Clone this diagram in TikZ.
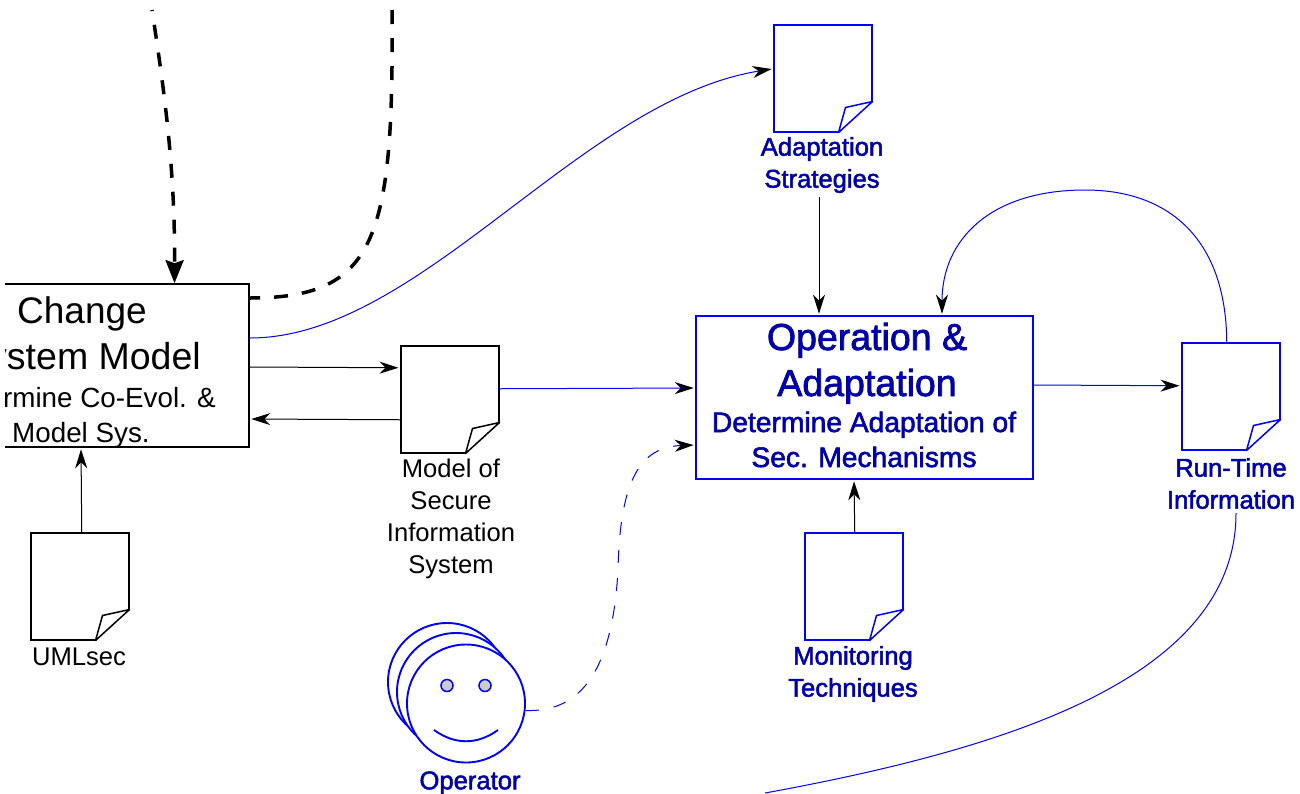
\documentclass[tikz,border=0pt]{standalone}
\usepackage{fontspec}
\setmainfont{Liberation Sans}
\newfontfamily\bluefont[FakeBold=2]{Liberation Sans}
\usetikzlibrary{arrows.meta}

\definecolor{textblue}{RGB}{0,0,170}

\tikzset{
    tip/.style={-{Stealth[length=19pt,width=12pt,inset=6pt,color=black]},shorten >=1.5pt},
    wire/.style={line width=1pt},
    boxnode/.style={draw,line width=1.6pt,inner sep=0pt},
    pagenode/.style={draw,line width=1.5pt,anchor=north west,inner sep=0pt,minimum width=98pt,minimum height=107pt},
    labelnode/.style={inner sep=0pt,align=center,font=\fontsize{25.6}{32}\selectfont},
    bluelabel/.style={inner sep=0pt,align=center,text=textblue,font=\bluefont\fontsize{25.6}{32}\selectfont},
    optitle/.style={inner sep=0pt,anchor=base,text=textblue,font=\bluefont\fontsize{37.5}{46}\selectfont},
    optext/.style={inner sep=0pt,anchor=base,text=textblue,font=\bluefont\fontsize{28.2}{35}\selectfont},
    facenode/.style={circle,draw=blue,line width=1.9pt,fill=white,inner sep=0pt,minimum size=118pt},
    eyenode/.style={circle,draw=blue,fill=black!20,line width=1.5pt,inner sep=0pt,minimum size=12pt},
    thickdash/.style={line width=3.5pt,dash pattern=on 14pt off 14pt},
}

% page with folded corner: name, x, y, colour
\newcommand{\docpage}[4]{
    \node[pagenode,draw=#4] (#1) at (#2,#3) {};
    \begin{scope}[shift={(#1.south east)}]
        \fill[white] (1,1) -- (1,-31) -- (-34,1) -- cycle;
        \draw[#4,line width=1.5pt,line join=round] (0,-31) -- (-34,0) -- (-27,-25) -- cycle;
    \end{scope}
}

\begin{document}
\begin{tikzpicture}[x=1pt,y=-1pt]
    \useasboundingbox (0,0) rectangle (1300,793);
    \clip (0,0) rectangle (1300,793);

    % -- Change box --
    \node[boxnode,minimum width=269pt,minimum height=163pt] (changebox) at (114.5,365.5) {};
    \node[inner sep=0pt,anchor=base,font=\fontsize{37}{46}\selectfont] (changeA) at (82,323) {Change};
    \node[inner sep=0pt,anchor=base east,font=\fontsize{37.5}{46}\selectfont] (changeB) at (201,369) {ystem Model};
    \node[inner sep=0pt,anchor=base east,font=\fontsize{27.8}{35}\selectfont] (changeC) at (216,407) {rmine Co-Evol. \&};
    \node[inner sep=0pt,anchor=base west,font=\fontsize{27.8}{35}\selectfont] (changeD) at (12,442) {Model Sys.};

    % -- Operation box --
    \node[boxnode,draw=blue,minimum width=337pt,minimum height=163pt] (opbox) at (864.5,397.5) {};
    \node[optitle] (opA) at (867,350) {Operation \&};
    \node[optitle] (opB) at (867,396) {Adaptation};
    \node[optext] (opC) at (864,432) {Determine Adaptation of};
    \node[optext] (opD) at (864,467) {Sec. Mechanisms};

    % -- Pages --
    \docpage{adaptdoc}{773}{24}{blue}
    \docpage{modeldoc}{400}{345}{black}
    \docpage{umldoc}{30}{532}{black}
    \docpage{monitordoc}{804}{532}{blue}
    \docpage{runtimedoc}{1181}{342}{blue}

    % -- Labels --
    \node[bluelabel] (adaptlabel) at (822,165) {Adaptation\\Strategies};
    \node[labelnode] (modellabel) at (451,519) {Model of\\Secure\\Information\\System};
    \node[labelnode] (umllabel) at (79,657) {UMLsec};
    \node[bluelabel] (monitorlabel) at (853,674) {Monitoring\\Techniques};
    \node[bluelabel] (runtimelabel) at (1231,483.5) {Run-Time\\Information};

    % -- Operator --
    \node[facenode] (faceA) at (447,682) {};
    \node[facenode] (faceB) at (456,692) {};
    \node[facenode] (operator) at (466,703.5) {};
    \node[eyenode] (eyeA) at (447,685.5) {};
    \node[eyenode] (eyeB) at (485,685.5) {};
    \draw[blue,line width=1.9pt] (434,730) .. controls (455,745) and (477,745) .. (498,730);
    \node[bluelabel] (operatorlabel) at (470,783) {Operator};

    % -- Dashed arrows from outside --
    \coordinate (dashstartA) at (152,10);
    \coordinate (dashstartB) at (392,10);
    \draw[thickdash,dash phase=13pt,-{Stealth[length=23pt,width=18pt,inset=3pt,color=black]}]
        (dashstartA) .. controls (165,95) and (175,170) .. ([xshift=60pt]changebox.north);
    \draw[thickdash]
        (dashstartB) .. controls (394,240) and (376,298) .. ([yshift=67.5pt]changebox.east);

    % -- Blue curves --
    \draw[blue,wire,tip] ([yshift=27.5pt]changebox.east)
        .. controls (420,338) and (580,100) .. ([yshift=9.5pt]adaptdoc.west);
    \draw[blue,wire,tip] ([xshift=-4pt]runtimedoc.north)
        .. controls (1226,240) and (1170,190) .. (1085,190)
        .. controls (990,190) and (942,240) .. ([xshift=77.5pt]opbox.north);
    \coordinate (runtimeend) at (765,793);
    \draw[blue,wire] ([xshift=5pt,yshift=-4pt]runtimelabel.south)
        .. controls (1236,680) and (1000,750) .. (runtimeend);
    \draw[blue,wire,dash pattern=on 13pt off 15pt,tip] ([yshift=-7pt]operator.east)
        .. controls (575,712) and (612,680) .. (618,570)
        .. controls (620,480) and (640,447) .. ([yshift=-47.5pt]opbox.west);

    % -- Straight connectors --
    \draw[wire,tip] ([yshift=-1.5pt]changebox.east) -- ([yshift=31.5pt]modeldoc.west);
    \draw[wire,tip] ([yshift=-20.5pt]modeldoc.west) -- ([yshift=-53.5pt]changebox.east);
    \draw[wire,tip] ([xshift=2pt]umldoc.north) -- ([xshift=-33.5pt]changebox.south);
    \draw[blue,wire,tip] ([yshift=10.5pt]modeldoc.east) -- ([yshift=9.5pt]opbox.west);
    \draw[blue,wire,tip] ([yshift=12.5pt]opbox.east) -- ([yshift=10.5pt]runtimedoc.west);
    \draw[wire,tip] ([xshift=-3pt,yshift=-4pt]adaptlabel.south) -- ([xshift=-45.5pt]opbox.north);
    \draw[wire,tip] ([xshift=1pt]monitordoc.north) -- ([xshift=-10.5pt]opbox.south);

    % -- Left edge of the cut-out --
    \fill[white] (0,270) rectangle (5,460);
\end{tikzpicture}
\end{document}
